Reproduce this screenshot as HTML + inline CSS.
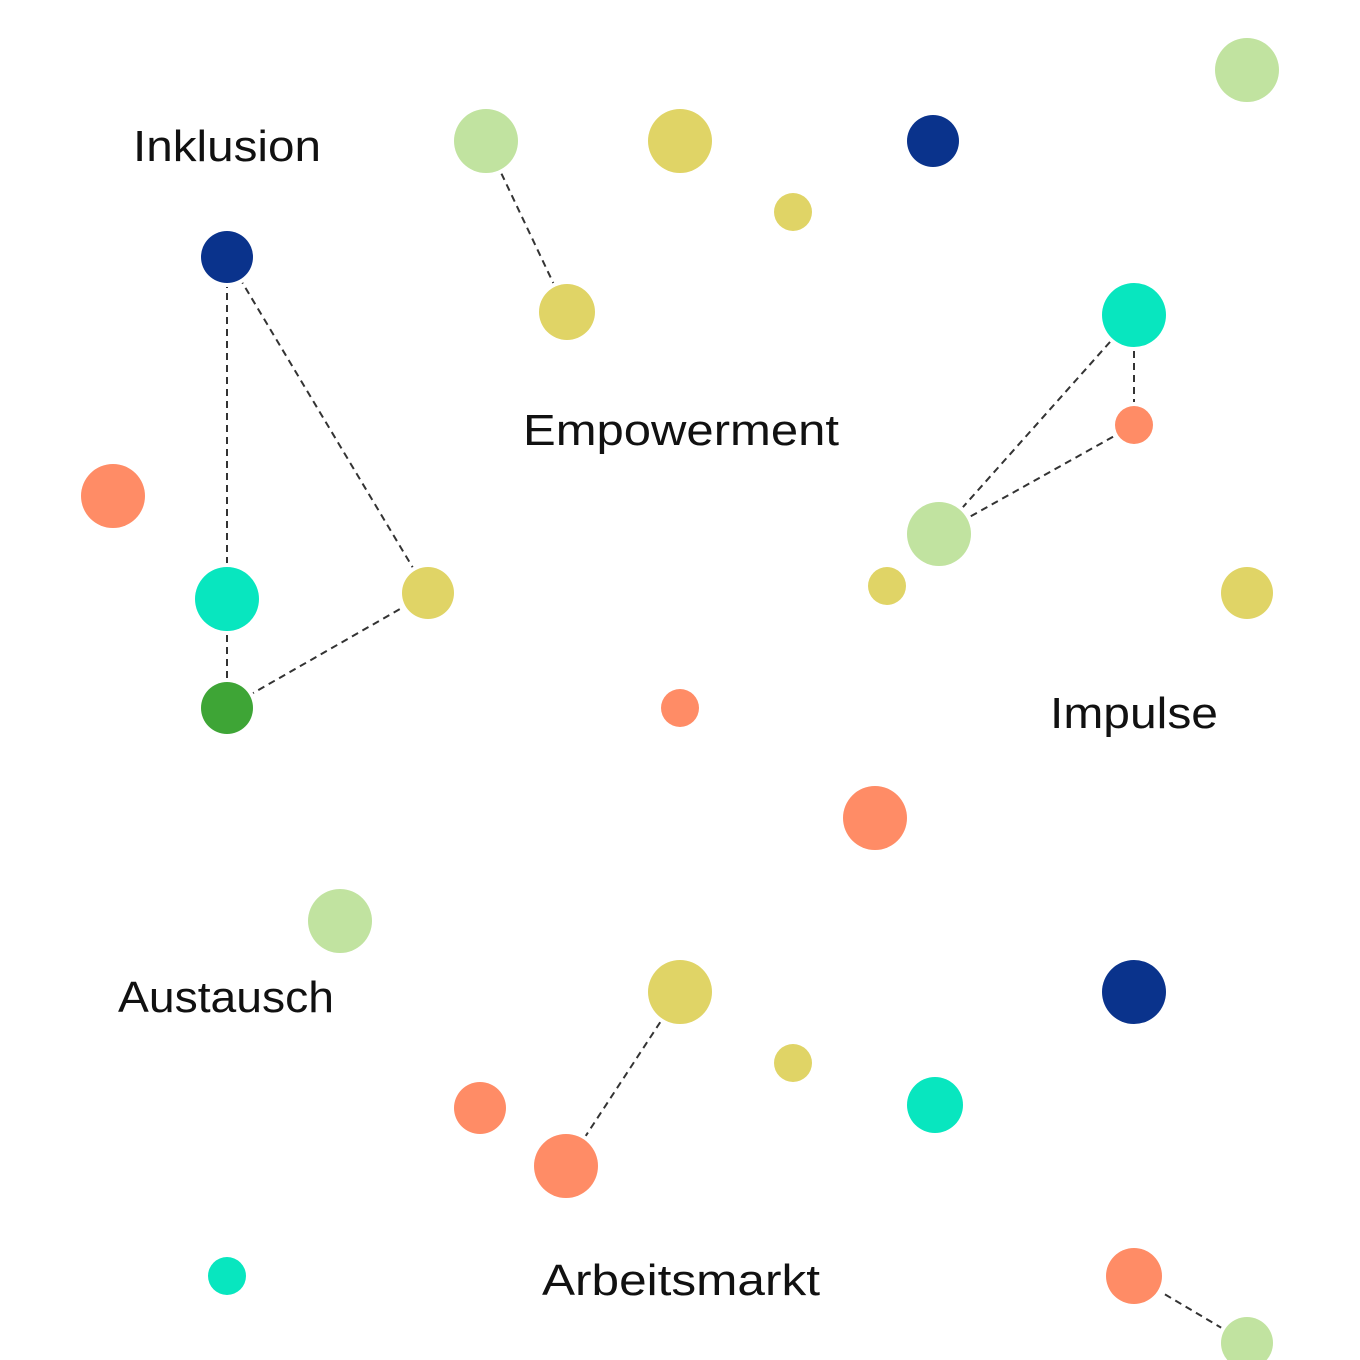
<!DOCTYPE html>
<html><head><meta charset="utf-8"><style>html,body{margin:0;padding:0;background:#fff}svg{display:block}</style></head>
<body>
<svg width="1360" height="1360" viewBox="0 0 1360 1360" xmlns="http://www.w3.org/2000/svg">
<rect width="1360" height="1360" fill="#fff"/>
<g stroke="#333" stroke-width="2" stroke-dasharray="7,5" fill="none">
<line x1="227" y1="257" x2="227" y2="599"/>
<line x1="227" y1="599" x2="227" y2="708"/>
<line x1="227" y1="257" x2="428" y2="593"/>
<line x1="227" y1="708" x2="428" y2="593"/>
<line x1="486" y1="141" x2="567" y2="312"/>
<line x1="1134" y1="315" x2="1134" y2="425"/>
<line x1="1134" y1="315" x2="939" y2="534"/>
<line x1="1134" y1="425" x2="939" y2="534"/>
<line x1="680" y1="992" x2="566" y2="1166"/>
<line x1="1134" y1="1276" x2="1247" y2="1343"/>
</g>
<g stroke="#fff" stroke-width="8" paint-order="stroke">
<circle cx="1247" cy="70" r="32" fill="#c1e3a0"/>
<circle cx="486" cy="141" r="32" fill="#c1e3a0"/>
<circle cx="680" cy="141" r="32" fill="#e0d466"/>
<circle cx="933" cy="141" r="26" fill="#0a338c"/>
<circle cx="793" cy="212" r="19" fill="#e0d466"/>
<circle cx="227" cy="257" r="26" fill="#0a338c"/>
<circle cx="567" cy="312" r="28" fill="#e0d466"/>
<circle cx="1134" cy="315" r="32" fill="#08e6bf"/>
<circle cx="1134" cy="425" r="19" fill="#ff8c66"/>
<circle cx="113" cy="496" r="32" fill="#ff8c66"/>
<circle cx="939" cy="534" r="32" fill="#c1e3a0"/>
<circle cx="227" cy="599" r="32" fill="#08e6bf"/>
<circle cx="428" cy="593" r="26" fill="#e0d466"/>
<circle cx="887" cy="586" r="19" fill="#e0d466"/>
<circle cx="1247" cy="593" r="26" fill="#e0d466"/>
<circle cx="227" cy="708" r="26" fill="#3ea536"/>
<circle cx="680" cy="708" r="19" fill="#ff8c66"/>
<circle cx="875" cy="818" r="32" fill="#ff8c66"/>
<circle cx="340" cy="921" r="32" fill="#c1e3a0"/>
<circle cx="680" cy="992" r="32" fill="#e0d466"/>
<circle cx="1134" cy="992" r="32" fill="#0a338c"/>
<circle cx="793" cy="1063" r="19" fill="#e0d466"/>
<circle cx="480" cy="1108" r="26" fill="#ff8c66"/>
<circle cx="935" cy="1105" r="28" fill="#08e6bf"/>
<circle cx="566" cy="1166" r="32" fill="#ff8c66"/>
<circle cx="227" cy="1276" r="19" fill="#08e6bf"/>
<circle cx="1134" cy="1276" r="28" fill="#ff8c66"/>
<circle cx="1247" cy="1343" r="26" fill="#c1e3a0"/>
</g>
<g font-family="'Liberation Sans', sans-serif" font-size="44" fill="#111" text-anchor="middle">
<text x="227" y="161" textLength="188" lengthAdjust="spacingAndGlyphs">Inklusion</text>
<text x="681" y="445" textLength="316" lengthAdjust="spacingAndGlyphs">Empowerment</text>
<text x="1134" y="728" textLength="168" lengthAdjust="spacingAndGlyphs">Impulse</text>
<text x="226" y="1012" textLength="216" lengthAdjust="spacingAndGlyphs">Austausch</text>
<text x="681" y="1295" textLength="278" lengthAdjust="spacingAndGlyphs">Arbeitsmarkt</text>
</g>
</svg>
</body></html>
